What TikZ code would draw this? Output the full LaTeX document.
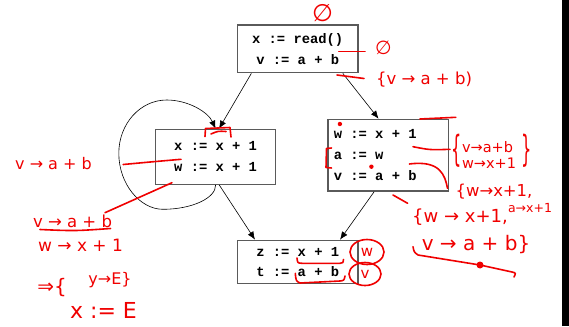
\documentclass[tikz,border=0pt]{standalone}
\usepackage{fontspec}
\usetikzlibrary{arrows.meta,calc}
\newfontfamily\boxfont{Liberation Mono}
\newfontfamily\handfont{DejaVu Sans}
\definecolor{ink}{RGB}{240,0,0}
\definecolor{framec}{RGB}{90,90,90}
\newcommand\lline[1]{\makebox[109pt][l]{#1}}
\begin{document}
\begin{tikzpicture}[x=1pt,y=-1pt,
  blk/.style={draw=framec, line width=1.3pt, inner sep=0pt, font=\boxfont\bfseries\fontsize{13.8}{21}\selectfont, align=center},
  arr/.style={-{Latex[length=8pt,width=6.5pt]}, line width=0.6pt, black},
  hand/.style={ink, line width=1.6pt, line cap=round, line join=round},
  hw/.style={text=ink, inner sep=0pt, font=\handfont\fontsize{#1}{#1}\selectfont, align=center},
  hw/.default=16]
\useasboundingbox (0,0) rectangle (569,326);
\fill[white] (0,0) rectangle (569,326);
\fill[black] (562,0) rectangle (569,326);

% blocks
\node[blk, minimum width=120.7pt, minimum height=47.7pt] (top) at (297.7,48.9) {x := read()\\v := a + b};
\node[blk, minimum width=119.6pt, minimum height=55pt] (left) at (215.6,156.8) {x := x + 1\\w := x + 1};
\node[blk, minimum width=120.6pt, minimum height=71.7pt] (right) at (388.3,155.2) {\lline{w := x + 1}\\\lline{a := w}\\\lline{v := a + b}};
\node[blk, minimum width=120.7pt, minimum height=43.4pt, font=\boxfont\bfseries\fontsize{13.8}{20}\selectfont] (bot) at (297.7,262) {z := x + 1\\t := a + b};

% edges
\draw[arr] ($(top.south west)!0.12!(top.south east)$) -- ($(left.north west)!0.528!(left.north east)$);
\draw[arr] ($(top.south west)!0.87!(top.south east)$) -- ($(right.north west)!0.42!(right.north east)$);
\draw[arr] ($(left.south west)!0.53!(left.south east)$) -- ($(bot.north west)!0.15!(bot.north east)$);
\draw[arr] ($(right.south west)!0.384!(right.south east)$) -- ($(bot.north west)!0.847!(bot.north east)$);
\draw[arr] (left.south) .. controls (216,198) and (192,209.3) .. (163,209.3)
  .. controls (140,209.3) and (118.8,184) .. (118.8,153.3)
  .. controls (118.8,124) and (140,100) .. (166.7,100)
  .. controls (188,100) and (208,112) .. (left.north);

% red annotations: top
\node[hw=24] (e1) at (322.5,13) {∅};
\draw[hand] (338.8,51.7) -- (365,51.7);
\node[hw=19] (e2) at (383.3,48) {∅};
\draw[hand] (337,75) -- (364,78.5);
\node[hw=16.5] (t1) at (424,80) {\{v → a + b)};

% right block
\fill[ink] (339.9,124) circle (2.2);
\draw[hand] (420,119) -- (455.8,117.3);
\draw[hand] (413,146.7) .. controls (430,150) .. (450,149.3);
\node[hw] (br1) at (457,151) {\scalebox{0.45}[1]{\fontsize{36}{36}\selectfont\{}};
\node[hw, align=left, font=\handfont\fontsize{14.5}{16.6}\selectfont] (t2) at (489,155) {v→a+b\\w→x+1};
\node[hw] (br2) at (527,151) {\scalebox{0.45}[1]{\fontsize{36}{36}\selectfont\}}};
\draw[hand] (331.5,148) -- (326.5,148.5) -- (326,167.5) -- (331.5,168);
\fill[ink] (371.4,166.7) circle (2.2);
\draw[hand] (409.4,164) .. controls (440,160) and (445,175) .. (447.5,188.3);
\node[hw=16.4] (t3) at (494,192) {\{w→x+1,};
\draw[hand] (393,195) -- (407.6,203.3);
\node[hw=18] (t4) at (460,217) {\{w → x+1,};
\node[hw=12.5] (t5) at (530,208) {a→x+1};
\node[hw=20] (t6) at (476,245) {v → a + b\}};
\draw[hand] (413,246.7) .. controls (414,252) .. (418,255) -- (480,265) -- (512,272) .. controls (516,273) .. (514,277);
\fill[ink] (480,265) circle (3.5);

% left annotations
\node[hw=16] (t7) at (53.5,164) {v → a + b};
\draw[hand] (123.2,164.5) .. controls (150,162) .. (181,159.3);
\draw[hand] (172,182.7) -- (105,212.7);
\node[hw=16.5] (t8) at (72.5,221) {v → a + b};
\draw[hand] (39.9,229.5) .. controls (75,231) .. (110.5,228.5);
\node[hw=17] (t9) at (80.5,245) {w → x + 1};
\node[hw=20] (t10) at (52,288) {⇒\{};
\node[hw=16] (t11) at (110,280) {y→E\}};
\node[hw=22] (t12) at (103.5,310) {x := E};

% left block bracket
\draw[hand] (205,136.5) -- (205.5,128.5) -- (230,127.5) -- (231,137);
\draw[hand] (211,134) .. controls (218,131) .. (226,131.5);

% bottom block
\draw[hand] (297,258) .. controls (297.5,263) .. (302,263.3) -- (340,263.3) .. controls (343,263) .. (343.5,259.5);
\draw[hand] (295.3,273.3) .. controls (296,281) .. (300,283) -- (340,281) .. controls (344,280.5) .. (345,276);
\node[hw=15] (cw) at (367,252) {w};
\draw[hand] (cw.center) ellipse [x radius=17, y radius=12.5];
\node[hw=15] (cv) at (365,274) {v};
\draw[hand] (cv.center) ellipse [x radius=16, y radius=11.5];
\end{tikzpicture}
\end{document}
